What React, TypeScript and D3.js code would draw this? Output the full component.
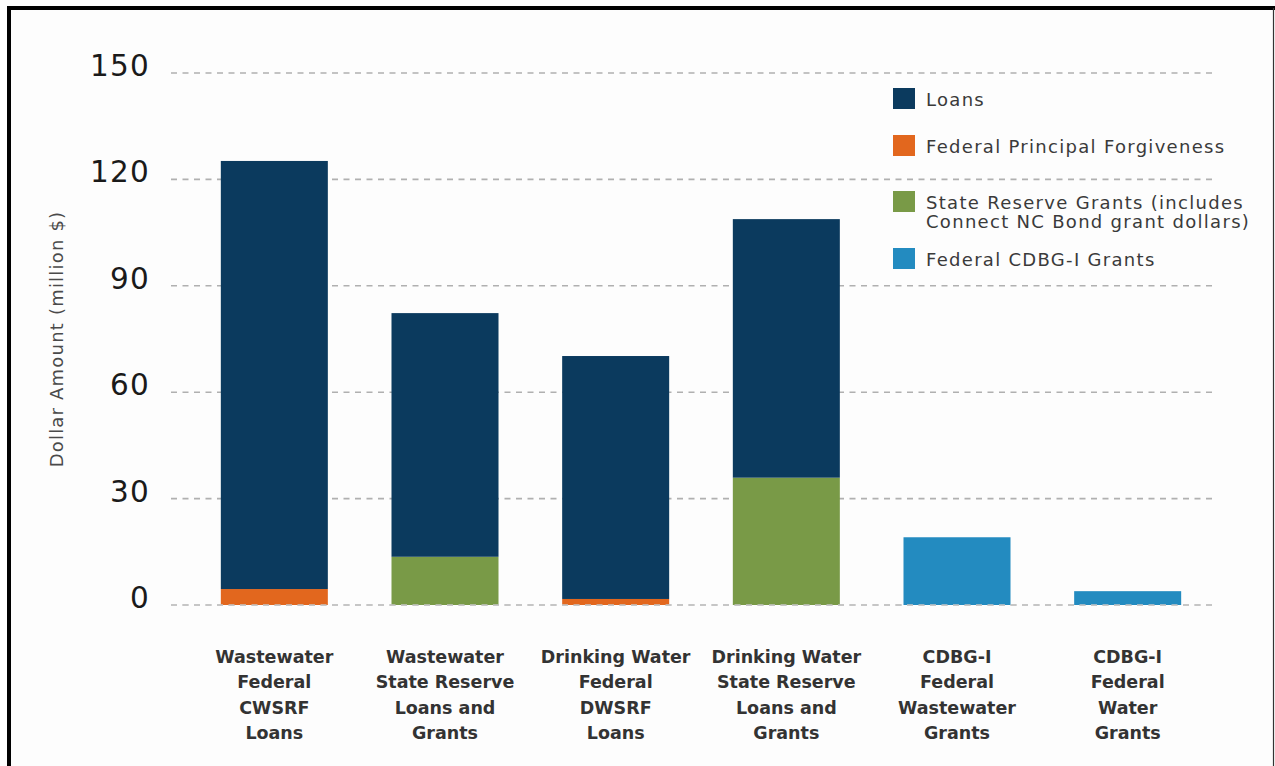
import React from "react";
import * as d3 from "d3";

const categories: string[][] = [
  ["Wastewater", "Federal", "CWSRF", "Loans"],
  ["Wastewater", "State Reserve", "Loans and", "Grants"],
  ["Drinking Water", "Federal", "DWSRF", "Loans"],
  ["Drinking Water", "State Reserve", "Loans and", "Grants"],
  ["CDBG-I", "Federal", "Wastewater", "Grants"],
  ["CDBG-I", "Federal", "Water", "Grants"],
];

const forgiveness = [4.5, 0, 1.7, 0, 0, 0];
const stateGrants = [0, 13.6, 0, 35.9, 0, 0];
const cdbgGrants = [0, 0, 0, 0, 19.1, 3.9];
const loans = [120.7, 68.7, 68.5, 72.9, 0, 0];

const yTicks = [0, 30, 60, 90, 120, 150];

const seriesKeys = ["forgiveness", "stateGrants", "cdbgGrants", "loans"];
const seriesColors: Record<string, string> = {
  loans: "#0b3a5e",
  forgiveness: "#e2671e",
  stateGrants: "#799a47",
  cdbgGrants: "#238bc0",
};
const legendItems: { key: string; lines: string[] }[] = [
  { key: "loans", lines: ["Loans"] },
  { key: "forgiveness", lines: ["Federal Principal Forgiveness"] },
  { key: "stateGrants", lines: ["State Reserve Grants (includes", "Connect NC Bond grant dollars)"] },
  { key: "cdbgGrants", lines: ["Federal CDBG-I Grants"] },
];

const FONT = "'DejaVu Sans', sans-serif";

export default function App() {
  const W = 1275;
  const H = 766;
  const rows = categories.map((c, i) => ({
    idx: i,
    forgiveness: forgiveness[i],
    stateGrants: stateGrants[i],
    cdbgGrants: cdbgGrants[i],
    loans: loans[i],
  }));
  const stack = d3.stack<any>().keys(seriesKeys);
  const stacked = stack(rows);

  const x = d3
    .scaleBand<number>()
    .domain(categories.map((_, i) => i))
    .range([189, 1213])
    .paddingInner(0.373)
    .paddingOuter(0.1865);
  const y = d3.scaleLinear().domain([0, 150]).range([605, 73]);

  const gridX0 = 171;
  const gridX1 = 1212;

  const legendY = [88, 135, 191, 248];

  return (
    <svg
      width={W}
      height={H}
      style={{ position: "absolute", left: 0, top: 0, display: "block", background: "#fdfdfd" }}
    >
      <rect x={0} y={0} width={W} height={H} fill="#fdfdfd" />
      {/* frame */}
      <line x1={9} y1={6} x2={9} y2={H} stroke="#000" strokeWidth={4} />
      <line x1={7} y1={8} x2={1275} y2={8} stroke="#000" strokeWidth={4} />
      <line x1={1273.5} y1={8} x2={1273.5} y2={H} stroke="#333" strokeWidth={1.2} />

      {/* grid */}
      {yTicks.map((t) => (
        <line
          key={"g" + t}
          x1={gridX0}
          x2={gridX1}
          y1={y(t)}
          y2={y(t)}
          stroke="#b0b0b0"
          strokeWidth={1.6}
          strokeDasharray="6,5.5"
        />
      ))}
      {yTicks.map((t) => (
        <text
          key={"t" + t}
          x={150}
          y={y(t) + 3}
          textAnchor="end"
          fontFamily={FONT}
          fontSize={29.5}
          letterSpacing={1.2}
          fill="#1a1a1a"
        >
          {t}
        </text>
      ))}

      {/* bars */}
      {stacked.map((s) => (
        <g key={s.key} fill={seriesColors[s.key]}>
          {s.map((d, i) =>
            d[1] - d[0] > 0 ? (
              <rect
                key={i}
                x={x(i)}
                width={x.bandwidth()}
                y={y(d[1])}
                height={y(d[0]) - y(d[1])}
              />
            ) : null
          )}
        </g>
      ))}
      <line
        x1={gridX0}
        x2={gridX1}
        y1={y(0)}
        y2={y(0)}
        stroke="#c8c8c8"
        strokeWidth={1.4}
        strokeDasharray="6,5.5"
      />

      {/* y axis title */}
      <text
        transform={`translate(63,339) rotate(-90)`}
        textAnchor="middle"
        fontFamily={FONT}
        fontSize={18}
        letterSpacing={1.2}
        fill="#4a4a4a"
      >
        Dollar Amount (million $)
      </text>

      {/* category labels */}
      {categories.map((lines, i) => (
        <text
          key={"c" + i}
          textAnchor="middle"
          fontFamily={FONT}
          fontSize={17.5}
          fontWeight={700}
          fill="#333333"
        >
          {lines.map((l, j) => (
            <tspan key={j} x={(x(i) as number) + x.bandwidth() / 2} y={663 + j * 25.3}>
              {l}
            </tspan>
          ))}
        </text>
      ))}

      {/* legend */}
      {legendItems.map((it, k) => (
        <g key={it.key}>
          <rect x={893} y={legendY[k]} width={22} height={21} fill={seriesColors[it.key]} />
          <text fontFamily={FONT} fontSize={18} letterSpacing={1.3} fill="#3a3a3a">
            {it.lines.map((l, j) => (
              <tspan key={j} x={926} y={legendY[k] + 18 + j * 19}>
                {l}
              </tspan>
            ))}
          </text>
        </g>
      ))}
    </svg>
  );
}
